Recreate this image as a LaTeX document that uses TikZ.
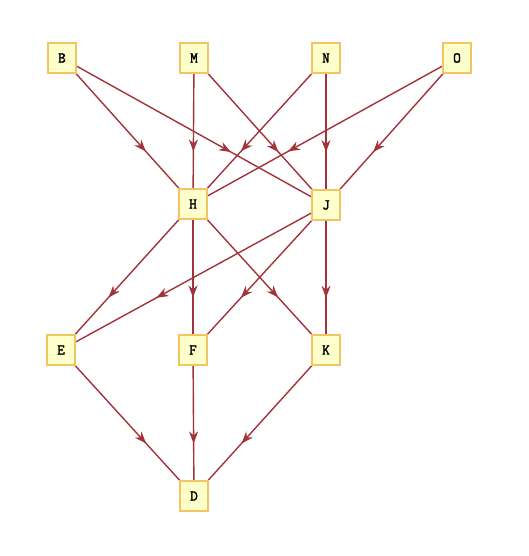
\documentclass[tikz,border=0pt]{standalone}
\usepackage{fontspec}
\newfontfamily\boxfont{Latin Modern Mono}[FakeBold=2]
\usetikzlibrary{arrows.meta,decorations.markings}
\pgfdeclarelayer{background}
\pgfsetlayers{background,main}
\definecolor{edgecol}{HTML}{A2333A}
\definecolor{boxfill}{HTML}{FFFFCC}
\definecolor{boxline}{HTML}{F5C462}
\tikzset{
  vbox/.style={draw=boxline, fill=boxfill, line width=1.5pt, minimum width=28pt, minimum height=30pt, inner sep=0pt, font=\fontsize{15}{17}\selectfont\boxfont},
  link/.style={draw=edgecol, line width=1.4pt, postaction={decorate}, decoration={markings, mark=at position 0.64 with {\arrow{Stealth[length=12pt,width=9pt]}}}}
}
\begin{document}
\begin{tikzpicture}[x=1pt,y=-1pt]
\useasboundingbox (0,0) rectangle (528,556);
\node[vbox] (B) at (62,58) {B};
\node[vbox] (M) at (194,58) {M};
\node[vbox] (N) at (326,58) {N};
\node[vbox] (O) at (457,58) {O};
\node[vbox] (H) at (193,204) {H};
\node[vbox] (J) at (326,205) {J};
\node[vbox] (E) at (61,350) {E};
\node[vbox] (F) at (193,350) {F};
\node[vbox] (K) at (326,350) {K};
\node[vbox] (D) at (194,496) {D};
\begin{pgfonlayer}{background}
\foreach \a/\b in {B/H,B/J,M/H,M/J,N/H,N/J,O/H,O/J,H/E,H/F,H/K,J/E,J/F,J/K,E/D,F/D,K/D}
  \path[link] (\a.center) -- (\b.center);
\end{pgfonlayer}
\end{tikzpicture}
\end{document}
